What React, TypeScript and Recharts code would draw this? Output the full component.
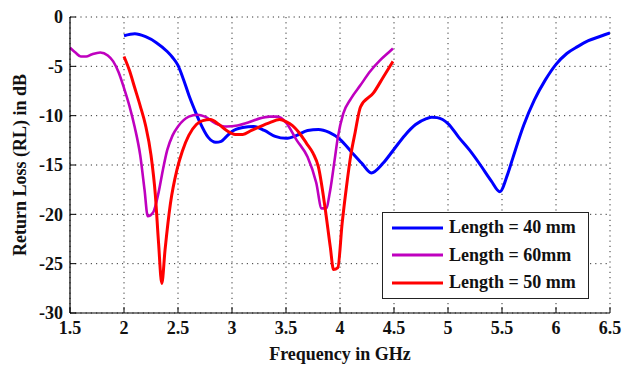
import React from 'react';
import { LineChart, Line, XAxis, YAxis, CartesianGrid, Legend } from 'recharts';

// Frequency (GHz) / return loss (dB) samples for each strip length
const freq40 = [2.0, 2.1, 2.2, 2.3, 2.4, 2.45, 2.5, 2.55, 2.6, 2.65, 2.7, 2.78, 2.85, 2.9, 2.95, 3.0, 3.1, 3.2, 3.3, 3.4, 3.5, 3.6, 3.7, 3.8, 3.9, 4.0, 4.1, 4.2, 4.29, 4.4, 4.5, 4.6, 4.7, 4.8, 4.85, 4.9, 5.0, 5.1, 5.2, 5.3, 5.4, 5.48, 5.55, 5.6, 5.7, 5.8, 5.9, 6.0, 6.1, 6.2, 6.3, 6.4, 6.5];
const rl40 = [-1.9, -1.7, -2.0, -2.6, -3.5, -4.1, -4.9, -6.3, -7.9, -9.3, -10.6, -12.2, -12.7, -12.6, -12.1, -11.6, -11.2, -11.1, -11.5, -12.1, -12.3, -12.0, -11.5, -11.4, -11.7, -12.4, -13.6, -14.8, -15.8, -14.8, -13.4, -12.0, -10.9, -10.3, -10.15, -10.2, -10.8, -12.2, -13.5, -15.0, -16.6, -17.7, -16.0, -14.3, -11.0, -8.4, -6.4, -4.8, -3.7, -3.0, -2.4, -2.0, -1.6];

const freq60 = [1.5, 1.55, 1.6, 1.65, 1.7, 1.78, 1.85, 1.9, 1.95, 2.0, 2.05, 2.1, 2.15, 2.19, 2.22, 2.27, 2.32, 2.36, 2.4, 2.45, 2.5, 2.6, 2.68, 2.75, 2.85, 2.95, 3.05, 3.15, 3.25, 3.35, 3.42, 3.5, 3.6, 3.7, 3.78, 3.83, 3.87, 3.91, 3.95, 3.98, 4.03, 4.1, 4.19, 4.28, 4.37, 4.45, 4.49];
const rl60 = [-3.1, -3.6, -4.0, -4.0, -3.8, -3.6, -3.9, -4.5, -5.6, -7.2, -9.0, -11.2, -14.0, -17.5, -20.2, -19.8, -17.8, -15.5, -13.5, -12.0, -11.1, -10.1, -9.9, -10.1, -10.8, -11.1, -11.0, -10.7, -10.3, -10.1, -10.1, -10.7, -12.5, -14.2, -16.8, -19.4, -19.4, -17.5, -14.5, -12.2, -9.8, -8.3, -6.9, -5.5, -4.4, -3.6, -3.2];

const freq50 = [2.0, 2.05, 2.1, 2.15, 2.2, 2.25, 2.29, 2.32, 2.35, 2.38, 2.43, 2.49, 2.54, 2.6, 2.67, 2.73, 2.8, 2.88, 2.95, 3.03, 3.1, 3.18, 3.26, 3.35, 3.44, 3.5, 3.56, 3.62, 3.69, 3.75, 3.8, 3.86, 3.91, 3.94, 3.98, 4.02, 4.06, 4.1, 4.14, 4.19, 4.31, 4.4, 4.49];
const rl50 = [-4.0, -5.4, -7.2, -9.0, -11.0, -14.0, -18.0, -22.9, -27.0, -23.6, -18.9, -15.5, -13.6, -12.0, -10.9, -10.5, -10.4, -10.9, -11.5, -11.9, -11.9, -11.5, -11.1, -10.7, -10.4, -10.6, -11.0, -11.7, -12.8, -13.8, -15.2, -19.2, -23.3, -25.6, -25.4, -20.9, -17.2, -14.0, -11.7, -9.1, -7.7, -6.1, -4.5];

const xTicks = [1.5, 2, 2.5, 3, 3.5, 4, 4.5, 5, 5.5, 6, 6.5];
const yTicks = [-30, -25, -20, -15, -10, -5, 0];
const legendOrder = ['Length = 40 mm', 'Length = 60mm', 'Length = 50 mm'];

const toPoints = (xs: number[], ys: number[]) => xs.map((f, i) => ({ f, rl: ys[i] }));

const data40 = toPoints(freq40, rl40);
const data60 = toPoints(freq60, rl60);
const data50 = toPoints(freq50, rl50);

const FONT = "'Liberation Serif', 'DejaVu Serif', 'Noto Serif', serif";
const TICK_LEN = 6;

const XTick = (props: any) => {
  const { x, y, payload } = props;
  return (
    <g>
      <line x1={x} x2={x} y1={y - 8} y2={y - 8 - TICK_LEN} stroke="#000" strokeWidth={1} />
      <text x={x} y={y} dy="0.71em" textAnchor="middle" fontFamily={FONT} fontWeight="bold" fontSize={18} fill="#111">
        {payload.value}
      </text>
    </g>
  );
};

const YTick = (props: any) => {
  const { x, y, payload } = props;
  return (
    <g>
      <line x1={x + 7} x2={x + 7 + TICK_LEN} y1={y} y2={y} stroke="#000" strokeWidth={1} />
      <text x={x} y={y} dy="0.35em" textAnchor="end" fontFamily={FONT} fontWeight="bold" fontSize={18} fill="#111">
        {payload.value}
      </text>
    </g>
  );
};

const LegendBox = (props: any) => {
  const items = [...(props.payload || [])].sort(
    (a: any, b: any) => legendOrder.indexOf(a.value) - legendOrder.indexOf(b.value)
  );
  return (
    <div
      style={{
        width: 207,
        height: 87,
        boxSizing: 'border-box',
        border: '1px solid #222',
        background: '#fff',
        paddingTop: 1,
      }}
    >
      {items.map((entry: any) => (
        <div key={entry.value} style={{ display: 'flex', alignItems: 'center', height: 27.5 }}>
          <svg width={66} height={10} style={{ display: 'block' }}>
            <line x1={9} x2={60} y1={5} y2={5} stroke={entry.color} strokeWidth={3} />
          </svg>
          <span style={{ fontFamily: FONT, fontWeight: 'bold', fontSize: 18, color: '#111', whiteSpace: 'nowrap' }}>
            {entry.value}
          </span>
        </div>
      ))}
    </div>
  );
};

export default function App() {
  return (
    <div style={{ position: 'absolute', left: 0, top: 0, width: 624, height: 366, background: '#fff' }}>
      <LineChart width={624} height={366} margin={{ top: 17, right: 14, left: 0, bottom: 0 }}>
        <CartesianGrid stroke="#333" strokeDasharray="1.2 4" />
        <XAxis
          type="number"
          dataKey="f"
          domain={[1.5, 6.5]}
          ticks={xTicks}
          interval={0}
          allowDataOverflow
          height={53}
          tickSize={0}
          tickMargin={8}
          tick={<XTick />}
          axisLine={{ stroke: '#000', strokeWidth: 1.2 }}
          tickLine={false}
          label={{
            value: 'Frequency in GHz',
            position: 'insideBottom',
            offset: 6,
            style: { fontFamily: FONT, fontWeight: 'bold', fontSize: 18, fill: '#111' },
          }}
        />
        <YAxis
          type="number"
          domain={[-30, 0]}
          ticks={yTicks}
          interval={0}
          allowDataOverflow
          width={70}
          tickSize={0}
          tickMargin={7}
          tick={<YTick />}
          axisLine={{ stroke: '#000', strokeWidth: 1.2 }}
          tickLine={false}
          label={{
            value: 'Return Loss (RL) in dB',
            angle: -90,
            position: 'insideLeft',
            offset: 20,
            style: { textAnchor: 'middle', fontFamily: FONT, fontWeight: 'bold', fontSize: 18, fill: '#111' },
          }}
        />
        <Legend
          layout="vertical"
          align="center"
          verticalAlign="middle"
          content={<LegendBox />}
          wrapperStyle={{ left: 382, top: 212, width: 207, height: 87 }}
        />
        <Line data={data40} dataKey="rl" name="Length = 40 mm" type="monotone" stroke="#0000ff" strokeWidth={3} dot={false} isAnimationActive={false} />
        <Line data={data60} dataKey="rl" name="Length = 60mm" type="monotone" stroke="#bf00bf" strokeWidth={2.6} dot={false} isAnimationActive={false} />
        <Line data={data50} dataKey="rl" name="Length = 50 mm" type="monotone" stroke="#ff0000" strokeWidth={3} dot={false} isAnimationActive={false} />
      </LineChart>
    </div>
  );
}
